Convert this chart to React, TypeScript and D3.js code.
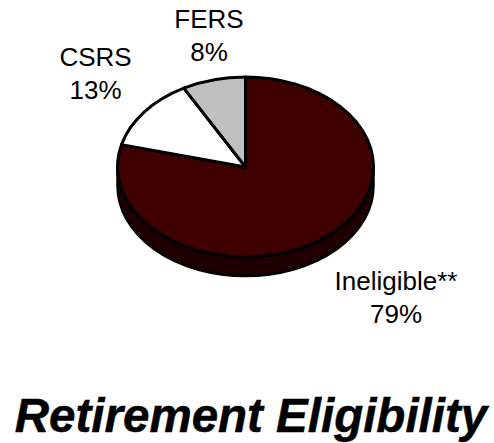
import React from "react";
import * as d3 from "d3";

const categories = ["Ineligible**", "CSRS", "FERS"];
const values = [79, 13, 8];
const fills = ["#3f0000", "#ffffff", "#c0c0c0"];
const sideFill = "#1f0000";
const title = "Retirement Eligibility";
const W = 494, H = 443;
const cx = 245.5, cy = 167, rx = 128, ry = 90, depth = 19;

const labels = [
  { i: 0, x: 396, y: 290 },
  { i: 1, x: 95.5, y: 66 },
  { i: 2, x: 209, y: 28 },
];

export default function App() {
  const pie = d3.pie<number>().sort(null).startAngle(0).endAngle(2 * Math.PI);
  const arcs = pie(values);
  const arc = d3.arc<d3.PieArcDatum<number>>().innerRadius(0).outerRadius(rx);
  const yScale = ry / rx;
  const sideD = `M${cx - rx},${cy} A${rx},${ry} 0 0 0 ${cx + rx},${cy} L${cx + rx},${cy + depth} A${rx},${ry} 0 0 1 ${cx - rx},${cy + depth} Z`;
  return (
    <svg width={W} height={H} style={{ position: "absolute", left: 0, top: 0 }} fontFamily="'Liberation Sans', Arial, sans-serif">
      <rect width={W} height={H} fill="#fff" />
      <path d={sideD} fill={sideFill} stroke="#000" strokeWidth={2.5} strokeLinejoin="round" />
      <g transform={`translate(${cx},${cy}) scale(1,${yScale})`}>
        {arcs.map((a, i) => (
          <path key={i} d={arc(a) ?? ""} fill={fills[i]} stroke="#000" strokeWidth={3} strokeLinejoin="round" vectorEffect="non-scaling-stroke" />
        ))}
      </g>
      {labels.map(({ i, x, y }) => (
        <text key={i} x={x} textAnchor="middle" fontSize={26} fill="#000">
          <tspan x={x} y={y}>{categories[i]}</tspan>
          <tspan x={x} y={y + 32.7}>{values[i]}%</tspan>
        </text>
      ))}
      <text x={251} y={431.5} textAnchor="middle" fontSize={47.5} fontWeight="bold" fontStyle="italic" fill="#000" stroke="#000" strokeWidth={0.5}>{title}</text>
    </svg>
  );
}
